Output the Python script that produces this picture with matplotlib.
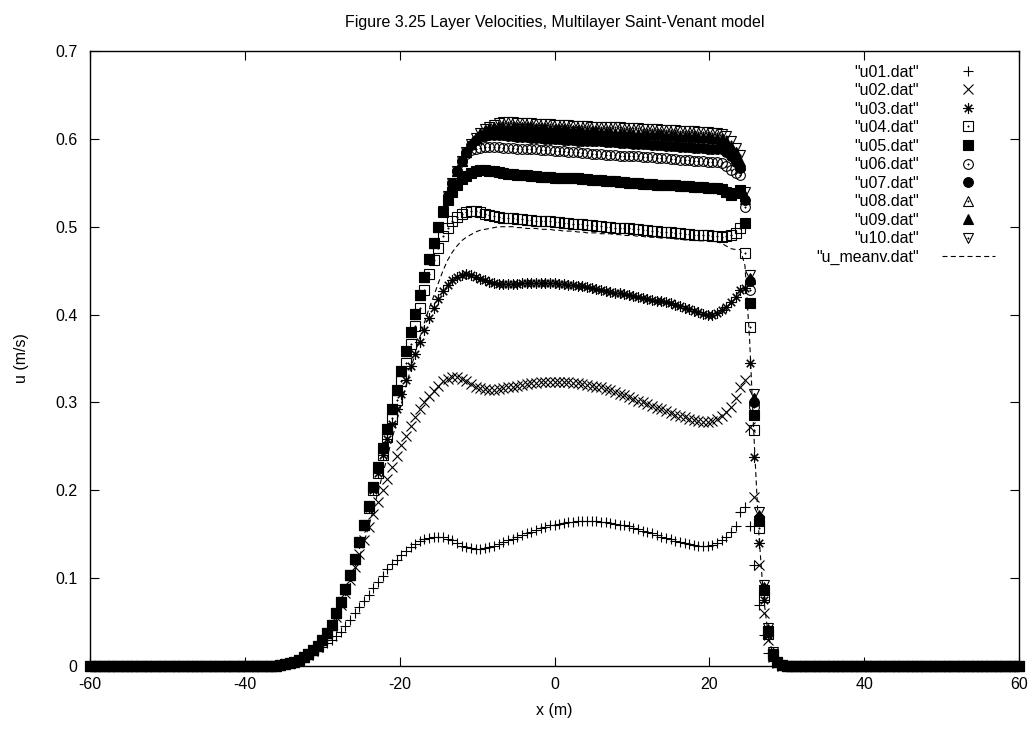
"""
Layer velocities of the multilayer Saint-Venant model (gnuplot-style figure).
"""

import matplotlib
matplotlib.use("Agg")
import matplotlib.pyplot as plt
import numpy as np

plt.rcParams["font.family"] = ["Liberation Sans", "DejaVu Sans"]
plt.rcParams["axes.unicode_minus"] = False

# %%
# Mesh: nodes every 0.6 m on [-60, 60]. Velocities are zero outside
# x in [-36.0, 29.4]; the lists below hold the 110 values in that window.
x = np.linspace(-60, 60, 201)
FIRST_ACTIVE = 40  # index of x = -36.0

u01 = [
    0.000, 0.001, 0.002, 0.003, 0.004, 0.006, 0.008, 0.011, 0.014, 0.018,
    0.022, 0.026, 0.030, 0.034, 0.039, 0.045, 0.052, 0.060, 0.067, 0.074,
    0.081, 0.089, 0.096, 0.103, 0.110, 0.116, 0.121, 0.126, 0.131, 0.135,
    0.139, 0.142, 0.144, 0.146, 0.147, 0.147, 0.147, 0.145, 0.143, 0.140,
    0.137, 0.135, 0.134, 0.133, 0.133, 0.134, 0.135, 0.137, 0.139, 0.141,
    0.143, 0.145, 0.147, 0.149, 0.151, 0.153, 0.155, 0.157, 0.158, 0.160,
    0.161, 0.162, 0.163, 0.164, 0.164, 0.165, 0.165, 0.165, 0.165, 0.165,
    0.164, 0.164, 0.163, 0.162, 0.161, 0.160, 0.159, 0.157, 0.156, 0.154,
    0.152, 0.151, 0.149, 0.147, 0.146, 0.144, 0.142, 0.141, 0.140, 0.139,
    0.138, 0.137, 0.137, 0.137, 0.138, 0.140, 0.143, 0.147, 0.152, 0.159,
    0.175, 0.181, 0.159, 0.115, 0.069, 0.035, 0.015, 0.006, 0.002, 0.000,
]
u02 = [
    0.000, 0.001, 0.002, 0.003, 0.005, 0.007, 0.010, 0.013, 0.017, 0.022,
    0.028, 0.036, 0.045, 0.056, 0.069, 0.083, 0.098, 0.113, 0.128, 0.143,
    0.158, 0.173, 0.187, 0.200, 0.213, 0.226, 0.239, 0.251, 0.262, 0.273,
    0.283, 0.292, 0.300, 0.307, 0.313, 0.319, 0.324, 0.327, 0.329, 0.329,
    0.327, 0.324, 0.321, 0.318, 0.316, 0.315, 0.314, 0.314, 0.315, 0.316,
    0.317, 0.318, 0.319, 0.320, 0.321, 0.322, 0.322, 0.323, 0.323, 0.323,
    0.323, 0.323, 0.323, 0.323, 0.322, 0.322, 0.321, 0.320, 0.319, 0.318,
    0.317, 0.315, 0.314, 0.312, 0.310, 0.308, 0.306, 0.304, 0.302, 0.300,
    0.298, 0.296, 0.294, 0.292, 0.290, 0.288, 0.286, 0.284, 0.283, 0.281,
    0.280, 0.279, 0.278, 0.278, 0.279, 0.281, 0.284, 0.289, 0.295, 0.305,
    0.318, 0.325, 0.272, 0.192, 0.115, 0.060, 0.030, 0.010, 0.003, 0.000,
]
u03 = [
    0.000, 0.001, 0.002, 0.003, 0.005, 0.007, 0.010, 0.014, 0.018, 0.023,
    0.030, 0.038, 0.047, 0.059, 0.072, 0.087, 0.103, 0.121, 0.140, 0.160,
    0.180, 0.200, 0.220, 0.240, 0.258, 0.276, 0.293, 0.310, 0.326, 0.341,
    0.355, 0.369, 0.383, 0.396, 0.408, 0.418, 0.427, 0.434, 0.439, 0.443,
    0.445, 0.446, 0.445, 0.443, 0.441, 0.439, 0.437, 0.436, 0.435, 0.435,
    0.435, 0.435, 0.435, 0.436, 0.436, 0.436, 0.436, 0.436, 0.436, 0.436,
    0.436, 0.435, 0.435, 0.434, 0.434, 0.433, 0.432, 0.431, 0.430, 0.429,
    0.428, 0.427, 0.426, 0.425, 0.424, 0.423, 0.422, 0.421, 0.420, 0.419,
    0.418, 0.417, 0.416, 0.415, 0.414, 0.413, 0.411, 0.410, 0.408, 0.406,
    0.404, 0.403, 0.401, 0.400, 0.400, 0.402, 0.405, 0.409, 0.414, 0.420,
    0.428, 0.430, 0.345, 0.238, 0.140, 0.075, 0.035, 0.012, 0.004, 0.001,
]
u04 = [
    0.000, 0.001, 0.002, 0.003, 0.005, 0.007, 0.010, 0.014, 0.018, 0.023,
    0.030, 0.038, 0.047, 0.060, 0.073, 0.088, 0.104, 0.122, 0.141, 0.161,
    0.180, 0.200, 0.220, 0.240, 0.261, 0.282, 0.303, 0.324, 0.345, 0.366,
    0.387, 0.408, 0.428, 0.446, 0.462, 0.476, 0.489, 0.499, 0.506, 0.511,
    0.515, 0.517, 0.518, 0.518, 0.517, 0.515, 0.513, 0.512, 0.511, 0.510,
    0.510, 0.510, 0.509, 0.509, 0.508, 0.508, 0.507, 0.507, 0.506, 0.506,
    0.505, 0.505, 0.504, 0.504, 0.503, 0.503, 0.503, 0.502, 0.502, 0.501,
    0.501, 0.500, 0.500, 0.499, 0.499, 0.498, 0.498, 0.497, 0.497, 0.496,
    0.496, 0.495, 0.495, 0.494, 0.494, 0.494, 0.493, 0.493, 0.492, 0.492,
    0.491, 0.491, 0.490, 0.490, 0.489, 0.489, 0.488, 0.489, 0.491, 0.493,
    0.498, 0.470, 0.386, 0.269, 0.157, 0.078, 0.036, 0.013, 0.004, 0.001,
]
u05 = [
    0.000, 0.001, 0.002, 0.003, 0.005, 0.007, 0.010, 0.014, 0.018, 0.023,
    0.030, 0.038, 0.047, 0.060, 0.073, 0.088, 0.104, 0.122, 0.141, 0.161,
    0.182, 0.204, 0.226, 0.248, 0.270, 0.292, 0.314, 0.336, 0.358, 0.380,
    0.401, 0.422, 0.443, 0.463, 0.482, 0.500, 0.517, 0.530, 0.540, 0.548,
    0.554, 0.558, 0.561, 0.563, 0.564, 0.564, 0.563, 0.563, 0.562, 0.561,
    0.560, 0.560, 0.559, 0.559, 0.559, 0.558, 0.558, 0.557, 0.557, 0.557,
    0.556, 0.556, 0.556, 0.555, 0.555, 0.555, 0.554, 0.554, 0.553, 0.553,
    0.553, 0.552, 0.552, 0.552, 0.551, 0.551, 0.550, 0.550, 0.550, 0.549,
    0.549, 0.549, 0.548, 0.548, 0.548, 0.547, 0.547, 0.546, 0.546, 0.546,
    0.545, 0.545, 0.545, 0.544, 0.544, 0.544, 0.543, 0.540, 0.536, 0.538,
    0.542, 0.504, 0.413, 0.286, 0.165, 0.086, 0.040, 0.014, 0.004, 0.001,
]
u06 = [
    0.000, 0.001, 0.002, 0.003, 0.005, 0.007, 0.010, 0.014, 0.018, 0.023,
    0.030, 0.038, 0.047, 0.060, 0.073, 0.088, 0.104, 0.122, 0.141, 0.161,
    0.182, 0.204, 0.226, 0.248, 0.270, 0.292, 0.314, 0.336, 0.358, 0.380,
    0.401, 0.422, 0.443, 0.463, 0.482, 0.500, 0.518, 0.535, 0.550, 0.563,
    0.575, 0.583, 0.587, 0.589, 0.590, 0.591, 0.591, 0.591, 0.591, 0.590,
    0.590, 0.590, 0.589, 0.589, 0.589, 0.588, 0.588, 0.587, 0.587, 0.587,
    0.586, 0.586, 0.586, 0.585, 0.585, 0.585, 0.584, 0.584, 0.583, 0.583,
    0.583, 0.582, 0.582, 0.582, 0.581, 0.581, 0.580, 0.580, 0.580, 0.579,
    0.579, 0.579, 0.578, 0.578, 0.578, 0.577, 0.577, 0.576, 0.576, 0.576,
    0.575, 0.575, 0.575, 0.574, 0.574, 0.574, 0.572, 0.569, 0.564, 0.561,
    0.559, 0.522, 0.428, 0.295, 0.165, 0.087, 0.039, 0.014, 0.004, 0.001,
]
u07 = [
    0.000, 0.001, 0.002, 0.003, 0.005, 0.007, 0.010, 0.014, 0.018, 0.023,
    0.030, 0.038, 0.047, 0.060, 0.073, 0.088, 0.104, 0.122, 0.141, 0.161,
    0.182, 0.204, 0.226, 0.248, 0.270, 0.292, 0.314, 0.336, 0.358, 0.380,
    0.401, 0.422, 0.443, 0.463, 0.482, 0.500, 0.518, 0.535, 0.550, 0.563,
    0.575, 0.585, 0.593, 0.599, 0.602, 0.603, 0.604, 0.604, 0.604, 0.604,
    0.603, 0.603, 0.602, 0.602, 0.602, 0.601, 0.601, 0.601, 0.600, 0.600,
    0.600, 0.600, 0.599, 0.599, 0.599, 0.598, 0.598, 0.598, 0.597, 0.597,
    0.597, 0.596, 0.596, 0.596, 0.595, 0.595, 0.595, 0.594, 0.594, 0.594,
    0.594, 0.593, 0.593, 0.593, 0.592, 0.592, 0.592, 0.591, 0.591, 0.591,
    0.590, 0.590, 0.590, 0.589, 0.589, 0.589, 0.588, 0.585, 0.580, 0.574,
    0.567, 0.530, 0.438, 0.300, 0.168, 0.088, 0.040, 0.014, 0.004, 0.001,
]
u08 = [
    0.000, 0.001, 0.002, 0.003, 0.005, 0.007, 0.010, 0.014, 0.018, 0.023,
    0.030, 0.038, 0.047, 0.060, 0.073, 0.088, 0.104, 0.122, 0.141, 0.161,
    0.182, 0.204, 0.226, 0.248, 0.270, 0.292, 0.314, 0.336, 0.358, 0.380,
    0.401, 0.422, 0.443, 0.463, 0.482, 0.500, 0.518, 0.535, 0.550, 0.563,
    0.575, 0.585, 0.594, 0.601, 0.605, 0.607, 0.608, 0.609, 0.609, 0.609,
    0.609, 0.609, 0.608, 0.608, 0.608, 0.608, 0.607, 0.607, 0.607, 0.606,
    0.606, 0.606, 0.606, 0.605, 0.605, 0.605, 0.604, 0.604, 0.604, 0.604,
    0.603, 0.603, 0.603, 0.602, 0.602, 0.602, 0.602, 0.601, 0.601, 0.601,
    0.600, 0.600, 0.600, 0.600, 0.599, 0.599, 0.599, 0.598, 0.598, 0.598,
    0.598, 0.597, 0.597, 0.597, 0.596, 0.596, 0.595, 0.592, 0.587, 0.580,
    0.570, 0.532, 0.440, 0.303, 0.170, 0.089, 0.041, 0.015, 0.005, 0.001,
]
u09 = [
    0.000, 0.001, 0.002, 0.003, 0.005, 0.007, 0.010, 0.014, 0.018, 0.023,
    0.030, 0.038, 0.047, 0.060, 0.073, 0.088, 0.104, 0.122, 0.141, 0.161,
    0.182, 0.204, 0.226, 0.248, 0.270, 0.292, 0.314, 0.336, 0.358, 0.380,
    0.401, 0.422, 0.443, 0.463, 0.482, 0.500, 0.518, 0.535, 0.550, 0.563,
    0.575, 0.585, 0.594, 0.601, 0.607, 0.610, 0.612, 0.613, 0.614, 0.614,
    0.614, 0.614, 0.613, 0.613, 0.613, 0.613, 0.612, 0.612, 0.612, 0.611,
    0.611, 0.611, 0.611, 0.610, 0.610, 0.610, 0.609, 0.609, 0.609, 0.609,
    0.608, 0.608, 0.608, 0.607, 0.607, 0.607, 0.607, 0.606, 0.606, 0.606,
    0.605, 0.605, 0.605, 0.605, 0.604, 0.604, 0.604, 0.603, 0.603, 0.603,
    0.603, 0.602, 0.602, 0.602, 0.601, 0.601, 0.600, 0.597, 0.592, 0.585,
    0.575, 0.535, 0.442, 0.305, 0.172, 0.090, 0.042, 0.015, 0.005, 0.001,
]
u10 = [
    0.000, 0.001, 0.002, 0.003, 0.005, 0.007, 0.010, 0.014, 0.018, 0.023,
    0.030, 0.038, 0.047, 0.060, 0.073, 0.088, 0.104, 0.122, 0.141, 0.161,
    0.182, 0.204, 0.226, 0.248, 0.270, 0.292, 0.314, 0.336, 0.358, 0.380,
    0.401, 0.422, 0.443, 0.463, 0.482, 0.500, 0.518, 0.535, 0.550, 0.563,
    0.575, 0.585, 0.594, 0.601, 0.607, 0.611, 0.614, 0.616, 0.618, 0.619,
    0.619, 0.619, 0.618, 0.618, 0.618, 0.618, 0.617, 0.617, 0.617, 0.617,
    0.616, 0.616, 0.616, 0.616, 0.615, 0.615, 0.615, 0.615, 0.614, 0.614,
    0.614, 0.613, 0.613, 0.613, 0.613, 0.612, 0.612, 0.612, 0.612, 0.611,
    0.611, 0.611, 0.611, 0.610, 0.610, 0.610, 0.610, 0.609, 0.609, 0.609,
    0.609, 0.608, 0.608, 0.608, 0.607, 0.607, 0.606, 0.603, 0.597, 0.590,
    0.582, 0.540, 0.445, 0.310, 0.175, 0.092, 0.043, 0.016, 0.005, 0.001,
]
u_meanv = [
    0.000, 0.001, 0.002, 0.003, 0.005, 0.007, 0.010, 0.013, 0.017, 0.022,
    0.028, 0.035, 0.044, 0.054, 0.066, 0.079, 0.093, 0.108, 0.124, 0.141,
    0.159, 0.178, 0.198, 0.218, 0.238, 0.258, 0.278, 0.298, 0.318, 0.337,
    0.356, 0.374, 0.391, 0.407, 0.421, 0.436, 0.450, 0.462, 0.471, 0.478,
    0.484, 0.488, 0.491, 0.494, 0.496, 0.497, 0.498, 0.499, 0.500, 0.500,
    0.500, 0.500, 0.499, 0.499, 0.498, 0.498, 0.498, 0.497, 0.497, 0.497,
    0.496, 0.496, 0.495, 0.495, 0.495, 0.494, 0.494, 0.493, 0.493, 0.493,
    0.492, 0.492, 0.492, 0.491, 0.491, 0.490, 0.490, 0.490, 0.489, 0.489,
    0.488, 0.488, 0.488, 0.487, 0.487, 0.487, 0.486, 0.486, 0.485, 0.485,
    0.485, 0.484, 0.484, 0.484, 0.483, 0.483, 0.481, 0.478, 0.475, 0.474,
    0.474, 0.456, 0.372, 0.255, 0.150, 0.078, 0.036, 0.013, 0.004, 0.001,
]

layers = [u01, u02, u03, u04, u05, u06, u07, u08, u09, u10]
labels = ['"u01.dat"', '"u02.dat"', '"u03.dat"', '"u04.dat"', '"u05.dat"',
          '"u06.dat"', '"u07.dat"', '"u08.dat"', '"u09.dat"', '"u10.dat"']
mean_label = '"u_meanv.dat"'

x_ticks = [-60, -40, -20, 0, 20, 40, 60]
y_ticks = [0, 0.1, 0.2, 0.3, 0.4, 0.5, 0.6, 0.7]
y_tick_labels = ["0", "0.1", "0.2", "0.3", "0.4", "0.5", "0.6", "0.7"]


def on_mesh(values):
    """Place the active-window values on the full mesh (zero elsewhere)."""
    assert len(values) == 110, len(values)
    full = np.zeros_like(x)
    full[FIRST_ACTIVE:FIRST_ACTIVE + len(values)] = values
    return full


# gnuplot point types 1..10: (marker, size, filled, centre dot)
styles = [
    ("+", 7.0, False, False),
    ("x", 6.5, False, False),
    ((8, 2, 0), 7.5, False, False),
    ("s", 6.5, False, True),
    ("s", 7.0, True, False),
    ("o", 7.0, False, True),
    ("o", 7.0, True, False),
    ("^", 7.0, False, True),
    ("^", 7.0, True, False),
    ("v", 7.0, False, True),
]

# %%
fig = plt.figure(figsize=(10.33, 7.29), dpi=100)
ax = fig.add_axes([90 / 1033, 1 - 666 / 729, 929 / 1033, 615 / 729])

handles = []
for values, (marker, ms, filled, dot) in zip(layers, styles):
    y = on_mesh(values)
    (h,) = ax.plot(x, y, linestyle="none", marker=marker, ms=ms,
                   mec="black", mew=0.8,
                   mfc="black" if filled else "none", clip_on=False)
    if dot:
        (hd,) = ax.plot(x, y, linestyle="none", marker="o", ms=1.1,
                        mec="black", mfc="black", mew=0.3, clip_on=False)
        handles.append((h, hd))
    else:
        handles.append(h)

(hm,) = ax.plot(x, on_mesh(u_meanv), color="black", lw=0.8,
                linestyle=(0, (4.5, 3.0)))
handles.append(hm)

ax.set_xlim(-60, 60)
ax.set_ylim(0, 0.7)
ax.set_xticks(x_ticks)
ax.set_yticks(y_ticks, y_tick_labels)
ax.tick_params(direction="in", length=6.5, width=0.8, top=True, right=True,
               labelsize=11.5, colors="black")
ax.tick_params(axis="x", pad=8)
ax.tick_params(axis="y", pad=9)
for s in ax.spines.values():
    s.set_linewidth(1.0)

ax.set_xlabel("x (m)", fontsize=11.5, labelpad=8)
ax.set_ylabel("u (m/s)", fontsize=11.5, labelpad=19)
ax.set_title("Figure 3.25 Layer Velocities, Multilayer Saint-Venant model",
             fontsize=11.5, pad=17)

ax.legend(handles, labels + [mean_label], loc="upper right",
          bbox_to_anchor=(0.974, 0.978), frameon=False, markerfirst=False,
          handlelength=3.3, handletextpad=1.45, labelspacing=0.22,
          borderpad=0, borderaxespad=0, fontsize=11.5)

fig.savefig("out.png", dpi=100)
